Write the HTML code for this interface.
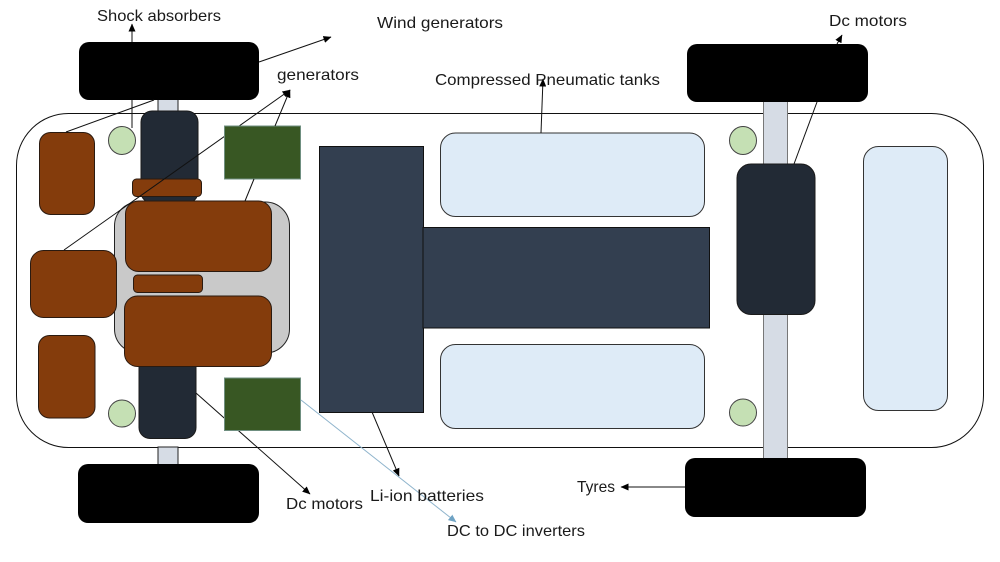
<!DOCTYPE html>
<html>
<head>
<meta charset="utf-8">
<style>
html,body{margin:0;padding:0;background:#fff;width:1000px;height:562px;overflow:hidden}
svg{display:block}
text{font-family:"Liberation Sans",sans-serif;font-size:16px;fill:#1a1a1a}
</style>
</head>
<body>
<svg width="1000" height="562" viewBox="0 0 1000 562" xmlns="http://www.w3.org/2000/svg">
<defs>
<marker id="a" markerWidth="8" markerHeight="7" refX="7.500" refY="3.500" orient="auto" markerUnits="userSpaceOnUse"><path d="M0 0L8 3.500L0 7Z" fill="#000"/></marker>
<marker id="b" markerWidth="8" markerHeight="7" refX="7.500" refY="3.500" orient="auto" markerUnits="userSpaceOnUse"><path d="M0 0L8 3.500L0 7Z" fill="#6fa3c4"/></marker>
</defs>
<rect width="1000" height="562" fill="#fff"/>

<!-- chassis -->
<rect x="16.500" y="113.500" width="967" height="334" rx="52" ry="52" fill="#fff" stroke="#111" stroke-width="1"/>

<!-- axles -->
<rect x="158" y="98" width="20" height="16" fill="#d6dce5" stroke="#222" stroke-width="1"/>
<rect x="158" y="447" width="20" height="20" fill="#d6dce5" stroke="#222" stroke-width="1"/>
<rect x="763.500" y="98" width="24" height="366" fill="#d6dce5" stroke="#777" stroke-width="1"/>

<!-- connectors drawn beneath components -->
<g fill="none" stroke="#111" stroke-width="1">
<line x1="196" y1="393" x2="310" y2="494" marker-end="url(#a)"/>
</g>

<!-- wheels -->
<rect x="79" y="42" width="180" height="58" rx="10" fill="#000"/>
<rect x="78" y="464" width="181" height="59" rx="10" fill="#000"/>
<rect x="687" y="44" width="181" height="58" rx="10" fill="#000"/>
<rect x="685" y="458" width="181" height="59" rx="10" fill="#000"/>

<!-- left motors -->
<rect x="141" y="111" width="57" height="92" rx="11" fill="#222a35" stroke="#1a1a1a" stroke-width="1"/>
<rect x="139" y="340" width="57" height="98.500" rx="11" fill="#222a35" stroke="#1a1a1a" stroke-width="1"/>

<!-- grey housing -->
<rect x="114.500" y="202" width="175" height="151" rx="24" fill="#c9c9c9" stroke="#222" stroke-width="1"/>

<!-- small brown -->
<rect x="132.500" y="179" width="69" height="17.500" rx="4" fill="#843c0c" stroke="#2a1a10" stroke-width="1"/>
<rect x="133.500" y="275" width="69" height="17.500" rx="4" fill="#843c0c" stroke="#2a1a10" stroke-width="1"/>

<!-- large brown -->
<rect x="125.500" y="201" width="146" height="70.500" rx="13" fill="#843c0c" stroke="#2a1a10" stroke-width="1"/>
<rect x="124.500" y="296" width="147" height="70.500" rx="13" fill="#843c0c" stroke="#2a1a10" stroke-width="1"/>

<!-- left brown -->
<rect x="39.500" y="132.500" width="55" height="82" rx="11" fill="#843c0c" stroke="#2a1a10" stroke-width="1"/>
<rect x="30.500" y="250.500" width="86" height="67" rx="13" fill="#843c0c" stroke="#2a1a10" stroke-width="1"/>
<rect x="38.500" y="335.500" width="56.500" height="82.500" rx="11" fill="#843c0c" stroke="#2a1a10" stroke-width="1"/>

<!-- circles -->
<ellipse cx="122" cy="140.500" rx="13.500" ry="14" fill="#c5e0b4" stroke="#444" stroke-width="1"/>
<ellipse cx="122" cy="413.500" rx="13.500" ry="13.500" fill="#c5e0b4" stroke="#444" stroke-width="1"/>
<ellipse cx="743" cy="140.500" rx="13.500" ry="14" fill="#c5e0b4" stroke="#444" stroke-width="1"/>
<ellipse cx="743" cy="412.500" rx="13.500" ry="13.500" fill="#c5e0b4" stroke="#444" stroke-width="1"/>

<!-- generator line passes behind upper green box -->
<line x1="64" y1="250" x2="290" y2="90" fill="none" stroke="#111" stroke-width="1" marker-end="url(#a)"/>

<!-- green boxes -->
<rect x="224.500" y="126" width="76" height="53" fill="#385723" stroke="#6f8f80" stroke-width="1"/>
<rect x="224.500" y="378" width="76" height="52.500" fill="#385723" stroke="#6f8f80" stroke-width="1"/>

<!-- batteries -->
<rect x="319.500" y="146.500" width="104" height="266" fill="#333f50" stroke="#111" stroke-width="1"/>
<rect x="423" y="227.500" width="286.500" height="100.500" fill="#333f50" stroke="#111" stroke-width="1"/>

<!-- tanks -->
<rect x="440.500" y="133" width="264" height="83.500" rx="15" fill="#deebf7" stroke="#333" stroke-width="1"/>
<rect x="440.500" y="344.500" width="264" height="84" rx="15" fill="#deebf7" stroke="#333" stroke-width="1"/>
<rect x="863.500" y="146.500" width="84" height="264" rx="15" fill="#deebf7" stroke="#333" stroke-width="1"/>

<!-- right motor -->
<rect x="737" y="164" width="78" height="150.500" rx="14" fill="#222a35" stroke="#1a1a1a" stroke-width="1"/>

<!-- connectors -->
<g fill="none" stroke="#111" stroke-width="1">
<line x1="132" y1="42" x2="132" y2="24" marker-end="url(#a)"/>
<line x1="132" y1="100" x2="132" y2="128"/>
<line x1="154" y1="100" x2="66" y2="132"/>
<line x1="259" y1="62" x2="331" y2="37" marker-end="url(#a)"/>
<line x1="275" y1="126" x2="290" y2="90" marker-end="url(#a)"/>
<line x1="254" y1="179" x2="245" y2="201"/>
<line x1="372" y1="412" x2="399" y2="476" marker-end="url(#a)"/>
<line x1="541" y1="133" x2="543" y2="79" marker-end="url(#a)"/>
<line x1="794" y1="164" x2="817" y2="102"/>
<line x1="837" y1="44" x2="842" y2="35" marker-end="url(#a)"/>
<line x1="685" y1="487" x2="621" y2="487" marker-end="url(#a)"/>
<line x1="301" y1="400" x2="456" y2="522" stroke="#8fb4cc" marker-end="url(#b)"/>
</g>

<!-- labels -->
<text x="97" y="21" textLength="124" lengthAdjust="spacingAndGlyphs">Shock absorbers</text>
<text x="377" y="28" textLength="126" lengthAdjust="spacingAndGlyphs">Wind generators</text>
<text x="277" y="80" textLength="82" lengthAdjust="spacingAndGlyphs">generators</text>
<text x="435" y="85" textLength="225" lengthAdjust="spacingAndGlyphs">Compressed Pneumatic tanks</text>
<text x="829" y="26" textLength="78" lengthAdjust="spacingAndGlyphs">Dc motors</text>
<text x="286" y="509" textLength="77" lengthAdjust="spacingAndGlyphs">Dc motors</text>
<text x="370" y="501" textLength="114" lengthAdjust="spacingAndGlyphs">Li-ion batteries</text>
<text x="447" y="536" textLength="138" lengthAdjust="spacingAndGlyphs">DC to DC inverters</text>
<text x="577" y="492" textLength="38" lengthAdjust="spacingAndGlyphs">Tyres</text>
</svg>
</body>
</html>
